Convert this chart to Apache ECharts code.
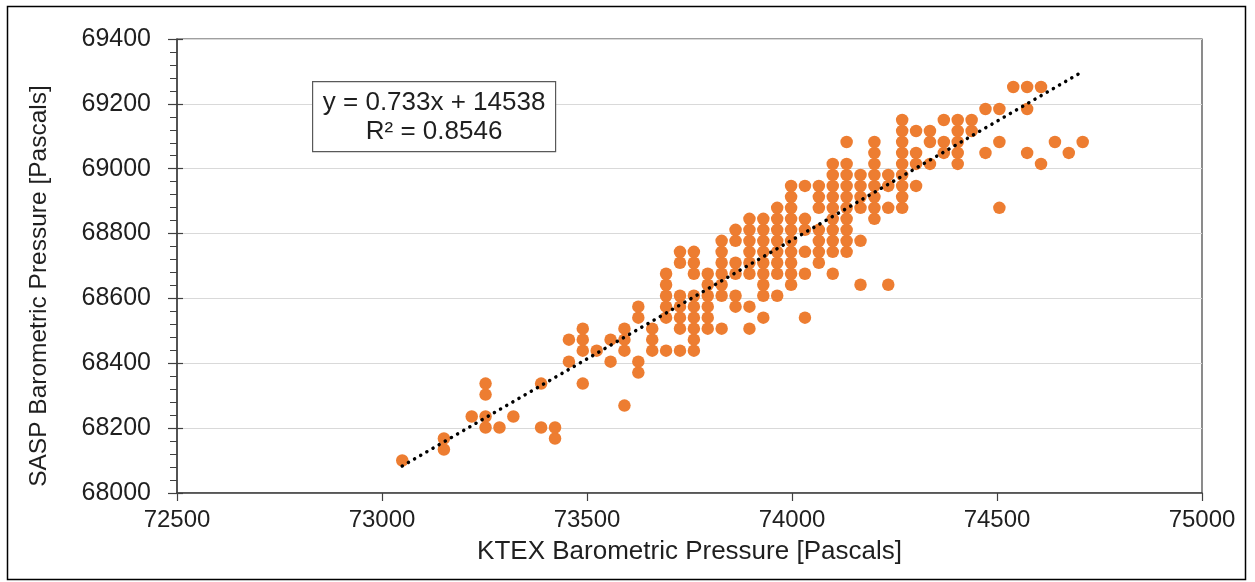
<!DOCTYPE html>
<html>
<head>
<meta charset="utf-8">
<script src="https://cdn.jsdelivr.net/npm/echarts@6/dist/echarts.min.js"></script>
<style>
  html, body { margin: 0; padding: 0; background: #ffffff; }
  #chart { width: 1255px; height: 582px; }
</style>
</head>
<body>
<div id="chart"></div>
<script>
// KTEX barometric pressure readings (Pa), one entry per distinct reading
const ktexPa = [
  73049.4, 73151.0, 73218.8, 73252.6, 73286.5, 73320.4, 73388.1, 73422.0,
  73455.9, 73489.7, 73523.6, 73557.5, 73591.3, 73625.2, 73659.1, 73692.9,
  73726.8, 73760.7, 73794.5, 73828.4, 73862.3, 73896.2, 73930.0, 73963.9,
  73997.8, 74031.6, 74065.5, 74099.4, 74133.2, 74167.1, 74201.0, 74234.8,
  74268.7, 74302.6, 74336.5, 74370.3, 74404.2, 74438.1, 74471.9, 74505.8,
  74539.7, 74573.5, 74607.4, 74641.3, 74675.1, 74709.0
];

// SASP barometric pressure readings (Pa) observed at each KTEX reading above
const saspPa = [
  [68100.3],
  [68134.2, 68168.0],
  [68235.8],
  [68201.9, 68235.8, 68303.5, 68337.4],
  [68201.9],
  [68235.8],
  [68201.9, 68337.4],
  [68168.0, 68201.9],
  [68405.1, 68472.9],
  [68337.4, 68439.0, 68472.9, 68506.7],
  [68439.0],
  [68405.1, 68472.9],
  [68269.6, 68439.0, 68472.9, 68506.7],
  [68371.3, 68405.1, 68540.6, 68574.5],
  [68439.0, 68472.9, 68506.7],
  [68439.0, 68540.6, 68574.5, 68608.3, 68642.2, 68676.1],
  [68439.0, 68506.7, 68540.6, 68574.5, 68608.3, 68710.0, 68743.8],
  [68439.0, 68472.9, 68506.7, 68540.6, 68574.5, 68608.3, 68676.1, 68710.0, 68743.8],
  [68506.7, 68540.6, 68574.5, 68608.3, 68642.2, 68676.1],
  [68506.7, 68608.3, 68642.2, 68676.1, 68710.0, 68743.8, 68777.7],
  [68574.5, 68608.3, 68676.1, 68710.0, 68777.7, 68811.6],
  [68506.7, 68574.5, 68676.1, 68710.0, 68743.8, 68777.7, 68811.6, 68845.4],
  [68540.6, 68608.3, 68642.2, 68676.1, 68710.0, 68743.8, 68777.7, 68811.6, 68845.4],
  [68608.3, 68676.1, 68710.0, 68743.8, 68777.7, 68811.6, 68845.4, 68879.3],
  [68642.2, 68676.1, 68710.0, 68743.8, 68777.7, 68811.6, 68845.4, 68879.3, 68913.2, 68947.0],
  [68540.6, 68676.1, 68743.8, 68811.6, 68845.4, 68947.0],
  [68710.0, 68743.8, 68777.7, 68811.6, 68879.3, 68913.2, 68947.0],
  [68676.1, 68743.8, 68777.7, 68811.6, 68845.4, 68879.3, 68913.2, 68947.0, 68980.9, 69014.8],
  [68743.8, 68777.7, 68811.6, 68845.4, 68879.3, 68913.2, 68947.0, 68980.9, 69014.8, 69082.5],
  [68642.2, 68777.7, 68879.3, 68913.2, 68947.0, 68980.9],
  [68845.4, 68879.3, 68913.2, 68947.0, 68980.9, 69014.8, 69048.6, 69082.5],
  [68642.2, 68879.3, 68947.0, 68980.9],
  [68879.3, 68913.2, 68947.0, 68980.9, 69014.8, 69048.6, 69082.5, 69116.4, 69150.3],
  [68947.0, 69014.8, 69048.6, 69116.4],
  [69014.8, 69082.5, 69116.4],
  [69048.6, 69082.5, 69150.3],
  [69014.8, 69048.6, 69082.5, 69116.4, 69150.3],
  [69116.4, 69150.3],
  [69048.6, 69184.1],
  [68879.3, 69082.5, 69184.1],
  [69251.9],
  [69048.6, 69184.1, 69251.9],
  [69014.8, 69251.9],
  [69082.5],
  [69048.6],
  [69082.5]
];

// Least-squares fit reported on the chart
const fitSlope = 0.733;
const fitIntercept = 14538;
const fitR2 = 0.8546;

// Axis ranges and tick steps
const xRange = [72500, 75000];
const xStep = 500;
const yRange = [68000, 69400];
const yStep = 200;

const xTitle = 'KTEX Barometric Pressure [Pascals]';
const yTitle = 'SASP Barometric Pressure [Pascals]';

// Flatten the paired readings into scatter points
const points = [];
ktexPa.forEach((x, i) => {
  saspPa[i].forEach(y => points.push([x, y]));
});

// Trend line spans the observed KTEX range
const xMin = Math.min(...ktexPa);
const xMax = Math.max(...ktexPa);
const trend = [
  [xMin, fitSlope * xMin + fitIntercept],
  [xMax, fitSlope * xMax + fitIntercept]
];

const font = '"Liberation Sans", Arial, sans-serif';
const textColor = '#1f1f1f';
const axisColor = '#404040';
const plainNumber = v => String(v);

const chart = echarts.init(document.getElementById('chart'), null, { renderer: 'canvas' });

chart.setOption({
  animation: false,
  backgroundColor: '#ffffff',
  grid: {
    left: 177, right: 53, top: 39, bottom: 89,
    show: true, borderColor: axisColor, borderWidth: 1.2, backgroundColor: 'transparent'
  },
  xAxis: {
    type: 'value',
    min: xRange[0], max: xRange[1], interval: xStep,
    name: xTitle, nameLocation: 'middle', nameGap: 46,
    nameTextStyle: { fontFamily: font, fontSize: 26, color: textColor },
    axisLine: { show: true, lineStyle: { color: axisColor, width: 1.5 } },
    axisTick: { show: true, inside: false, length: 8, lineStyle: { color: axisColor, width: 1.2 } },
    axisLabel: { fontFamily: font, fontSize: 24, color: textColor, margin: 15, formatter: plainNumber },
    splitLine: { show: false }
  },
  yAxis: [
    {
      type: 'value',
      min: yRange[0], max: yRange[1], interval: yStep,
      name: yTitle, nameLocation: 'middle', nameGap: 125, nameRotate: 90,
      nameTextStyle: { fontFamily: font, fontSize: 24.5, color: textColor, padding: [0, 40, 0, 0] },
      axisLine: { show: true, lineStyle: { color: axisColor, width: 1.5 } },
      axisTick: { show: true, inside: false, length: 9, lineStyle: { color: axisColor, width: 1.2 } },
      minorTick: { show: true, splitNumber: 5, length: 7, lineStyle: { color: axisColor, width: 1 } },
      axisLabel: { fontFamily: font, fontSize: 25, color: textColor, margin: 26, formatter: plainNumber },
      splitLine: { show: true, lineStyle: { color: '#d9d9d9', width: 1.2 } }
    },
    {
      // inner half of the crossing major ticks
      type: 'value',
      position: 'left',
      min: yRange[0], max: yRange[1], interval: yStep,
      axisLine: { show: false },
      axisTick: { show: true, inside: true, length: 6, lineStyle: { color: axisColor, width: 1.2 } },
      axisLabel: { show: false },
      splitLine: { show: false }
    }
  ],
  series: [
    {
      type: 'scatter',
      data: points,
      symbol: 'circle',
      symbolSize: 12.5,
      itemStyle: { color: '#ed7d31', opacity: 1 },
      z: 2
    },
    {
      type: 'line',
      data: trend,
      showSymbol: false,
      symbol: 'none',
      lineStyle: { color: '#000000', width: 3.5, type: [0.1, 7], cap: 'round' },
      z: 3,
      silent: true
    }
  ],
  graphic: [
    {
      // outer frame
      type: 'rect',
      z: 100,
      shape: { x: 7.5, y: 6.5, width: 1238, height: 573 },
      style: { fill: 'none', stroke: '#000000', lineWidth: 1.5 },
      silent: true
    },
    {
      type: 'group',
      left: 312, top: 81,
      z: 100,
      children: [
        {
          type: 'rect',
          z: 100,
          shape: { x: 0, y: 0, width: 243, height: 70 },
          style: { fill: '#ffffff', stroke: '#595959', lineWidth: 1.2 }
        },
        {
          type: 'text',
          z: 101,
          x: 121.5, y: 21,
          style: {
            text: 'y = ' + fitSlope + 'x + ' + fitIntercept,
            font: '26px ' + font, fill: textColor, align: 'center', verticalAlign: 'middle'
          }
        },
        {
          type: 'text',
          z: 101,
          x: 121.5, y: 50,
          style: {
            text: 'R² = ' + fitR2,
            font: '26px ' + font, fill: textColor, align: 'center', verticalAlign: 'middle'
          }
        }
      ]
    }
  ]
});
</script>
</body>
</html>
